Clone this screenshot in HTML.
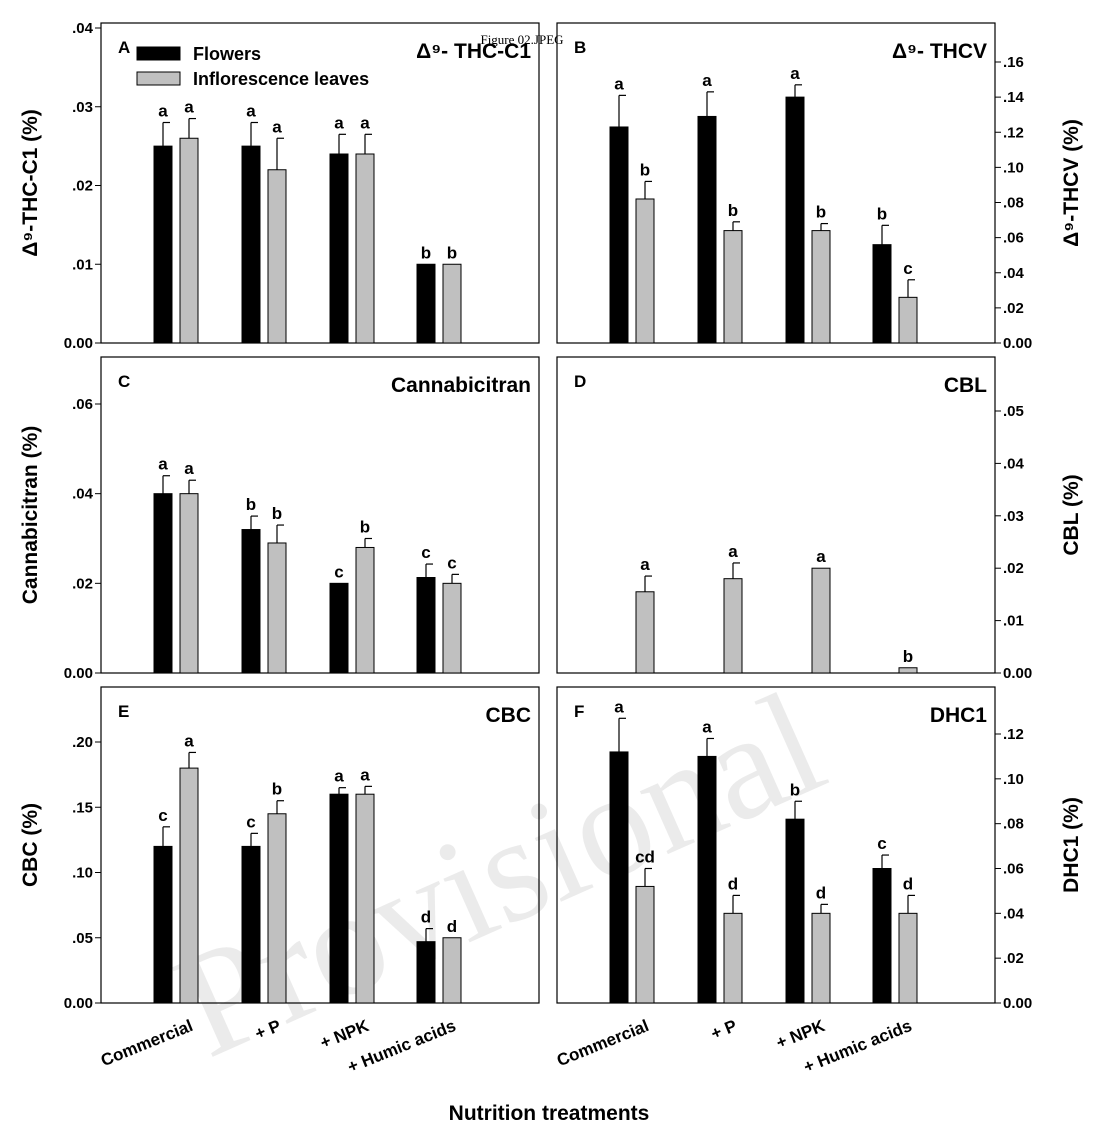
<!DOCTYPE html>
<html><head><meta charset="utf-8"><style>
body{margin:0;background:#fff;}
svg{display:block;font-family:"Liberation Sans",sans-serif;}
</style></head><body>
<svg id="chart" width="1098" height="1142" viewBox="0 0 1098 1142" xmlns="http://www.w3.org/2000/svg">
<text x="522" y="44" font-family="Liberation Serif" font-size="13" text-anchor="middle">Figure 02.JPEG</text>
<text x="520" y="920" font-family="Liberation Serif" font-size="150" fill="#000" fill-opacity="0.08" transform="rotate(-24 520 920)" text-anchor="middle">Provisional</text>
<g id="panels"></g>
<text x="549" y="1120" font-size="21" font-weight="bold" text-anchor="middle">Nutrition treatments</text>
</svg>
<script>
const categories=["Commercial","+ P","+ NPK","+ Humic acids"];
const aFlowers=[0.025,0.025,0.024,0.010], aLeaves=[0.026,0.022,0.024,0.010];
const aFlErr=[0.003,0.003,0.0025,0], aLvErr=[0.0025,0.004,0.0025,0];
const aFlLet=["a","a","a","b"], aLvLet=["a","a","a","b"];
const bFlowers=[0.123,0.129,0.140,0.056], bLeaves=[0.082,0.064,0.064,0.026];
const bFlErr=[0.018,0.014,0.007,0.011], bLvErr=[0.010,0.005,0.004,0.010];
const bFlLet=["a","a","a","b"], bLvLet=["b","b","b","c"];
const cFlowers=[0.040,0.032,0.020,0.0213], cLeaves=[0.040,0.029,0.028,0.020];
const cFlErr=[0.004,0.003,0,0.003], cLvErr=[0.003,0.004,0.002,0.002];
const cFlLet=["a","b","c","c"], cLvLet=["a","b","b","c"];
const dFlowers=[0,0,0,0], dLeaves=[0.0155,0.018,0.020,0.001];
const dFlErr=[0,0,0,0], dLvErr=[0.003,0.003,0,0];
const dFlLet=["","","",""], dLvLet=["a","a","a","b"];
const eFlowers=[0.12,0.12,0.16,0.047], eLeaves=[0.18,0.145,0.16,0.05];
const eFlErr=[0.015,0.01,0.005,0.01], eLvErr=[0.012,0.01,0.006,0];
const eFlLet=["c","c","a","d"], eLvLet=["a","b","a","d"];
const fFlowers=[0.112,0.110,0.082,0.060], fLeaves=[0.052,0.040,0.040,0.040];
const fFlErr=[0.015,0.008,0.008,0.006], fLvErr=[0.008,0.008,0.004,0.008];
const fFlLet=["a","a","b","c"], fLvLet=["cd","d","d","d"];
const aTicks=[0,0.01,0.02,0.03,0.04], aTickLabels=["0.00",".01",".02",".03",".04"];
const bTicks=[0,0.02,0.04,0.06,0.08,0.10,0.12,0.14,0.16], bTickLabels=["0.00",".02",".04",".06",".08",".10",".12",".14",".16"];
const cTicks=[0,0.02,0.04,0.06], cTickLabels=["0.00",".02",".04",".06"];
const dTicks=[0,0.01,0.02,0.03,0.04,0.05], dTickLabels=["0.00",".01",".02",".03",".04",".05"];
const eTicks=[0,0.05,0.10,0.15,0.20], eTickLabels=["0.00",".05",".10",".15",".20"];
const fTicks=[0,0.02,0.04,0.06,0.08,0.10,0.12], fTickLabels=["0.00",".02",".04",".06",".08",".10",".12"];

const NS="http://www.w3.org/2000/svg";
const root=document.getElementById("panels");
function mk(tag,attrs,parent){const e=document.createElementNS(NS,tag);for(const k in attrs)e.setAttribute(k,attrs[k]);(parent||root).appendChild(e);return e;}

const panels=[
 {id:"a",x:101,y:23,top:343,max:0.04,maxY:28,right:false,fl:aFlowers,lv:aLeaves,fe:aFlErr,le:aLvErr,fL:aFlLet,lL:aLvLet,ticks:aTicks,tl:aTickLabels,letter:"A",title:"Δ⁹- THC-C1",ytitle:"Δ⁹-THC-C1 (%)"},
 {id:"b",x:557,y:23,top:343,max:0.16,maxY:62,right:true,fl:bFlowers,lv:bLeaves,fe:bFlErr,le:bLvErr,fL:bFlLet,lL:bLvLet,ticks:bTicks,tl:bTickLabels,letter:"B",title:"Δ⁹- THCV",ytitle:"Δ⁹-THCV (%)"},
 {id:"c",x:101,y:357,top:673,max:0.06,maxY:404,right:false,fl:cFlowers,lv:cLeaves,fe:cFlErr,le:cLvErr,fL:cFlLet,lL:cLvLet,ticks:cTicks,tl:cTickLabels,letter:"C",title:"Cannabicitran",ytitle:"Cannabicitran (%)"},
 {id:"d",x:557,y:357,top:673,max:0.05,maxY:411,right:true,fl:dFlowers,lv:dLeaves,fe:dFlErr,le:dLvErr,fL:dFlLet,lL:dLvLet,ticks:dTicks,tl:dTickLabels,letter:"D",title:"CBL",ytitle:"CBL (%)"},
 {id:"e",x:101,y:687,top:1003,max:0.20,maxY:742,right:false,fl:eFlowers,lv:eLeaves,fe:eFlErr,le:eLvErr,fL:eFlLet,lL:eLvLet,ticks:eTicks,tl:eTickLabels,letter:"E",title:"CBC",ytitle:"CBC (%)"},
 {id:"f",x:557,y:687,top:1003,max:0.12,maxY:734,right:true,fl:fFlowers,lv:fLeaves,fe:fFlErr,le:fLvErr,fL:fFlLet,lL:fLvLet,ticks:fTicks,tl:fTickLabels,letter:"F",title:"DHC1",ytitle:"DHC1 (%)"}
];
const W=438, groupOff=[75,163,251,338], bw=18;

panels.forEach(p=>{
 const g=mk("g",{});
 
 
 const base=p.top;
 const yS=v=>base-(v/p.max)*(base-p.maxY);
 const fr=mk("rect",{x:p.x,y:p.y,width:W,height:base-p.y,fill:"none",stroke:"#000","stroke-width":1.2},g);
 
 
 const ax=p.right?p.x+W:p.x;
 p.ticks.forEach((t,i)=>{
  const y=yS(t);
  mk("line",{x1:ax,x2:p.right?ax+6:ax-6,y1:y,y2:y,stroke:"#000"},g);
  const tx=mk("text",{x:p.right?ax+8:ax-8,y:y+5,"font-size":15,"font-weight":"bold","text-anchor":p.right?"start":"end"},g);
  tx.textContent=p.tl[i];
  
  
 });
 categories.forEach((c,i)=>{
  const cx=p.x+groupOff[i];
  [[p.fl,p.fe,p.fL,"#000",-13,"bar-flowers"],[p.lv,p.le,p.lL,"#c0c0c0",13,"bar-leaves"]].forEach(s=>{
   const v=s[0][i], e=s[1][i], bx=cx+s[4];
   if(v>0){
    const r=mk("rect",{x:bx-bw/2,y:yS(v),width:bw,height:base-yS(v),fill:s[3],stroke:"#000","stroke-width":1},g);
    
    
    if(e>0){
     mk("line",{x1:bx,x2:bx,y1:yS(v),y2:yS(v+e),stroke:"#000","stroke-width":1.2},g);
     mk("line",{x1:bx,x2:bx+7,y1:yS(v+e),y2:yS(v+e),stroke:"#000","stroke-width":1.2},g);
    }
   }
   if(s[2][i]){
    const lt=mk("text",{x:bx,y:yS(v+e)-6,"font-size":17,"font-weight":"bold","text-anchor":"middle"},g);
    lt.textContent=s[2][i];
    
    
   }
  });
  if(p.id==="e"||p.id==="f"){
   const lx=cx+18, ly=1030;
   const xl=mk("text",{x:lx,y:ly,"font-size":17,"font-weight":"bold","text-anchor":"end",transform:`rotate(-22 ${lx} ${ly})`},g);
   xl.textContent=c;
   
   
  }
 });
 const pl=mk("text",{x:p.x+17,y:p.y+30,"font-size":17,"font-weight":"bold"},g);
 pl.textContent=p.letter;
 
 
 const pt=mk("text",{x:p.x+W-8,y:p.y+35,"font-size":21,"font-weight":"bold","text-anchor":"end"},g);
 pt.textContent=p.title;
 
 
 const tx=p.right?1078:37, ty=(p.y+base)/2;
 const yt=mk("text",{x:tx,y:ty,"font-size":21,"font-weight":"bold","text-anchor":"middle",transform:`rotate(-90 ${tx} ${ty})`},g);
 yt.textContent=p.ytitle;
 
 
});
// legend
const lg=mk("g",{});


[["#000","Flowers",47],["#c0c0c0","Inflorescence leaves",72]].forEach(l=>{
 const r=mk("rect",{x:137,y:l[2],width:43,height:13,fill:l[0],stroke:"#000"},lg);
 
 
 const t=mk("text",{x:193,y:l[2]+13,"font-size":18,"font-weight":"bold"},lg);
 t.textContent=l[1];
 
 
});
</script>
</body></html>
